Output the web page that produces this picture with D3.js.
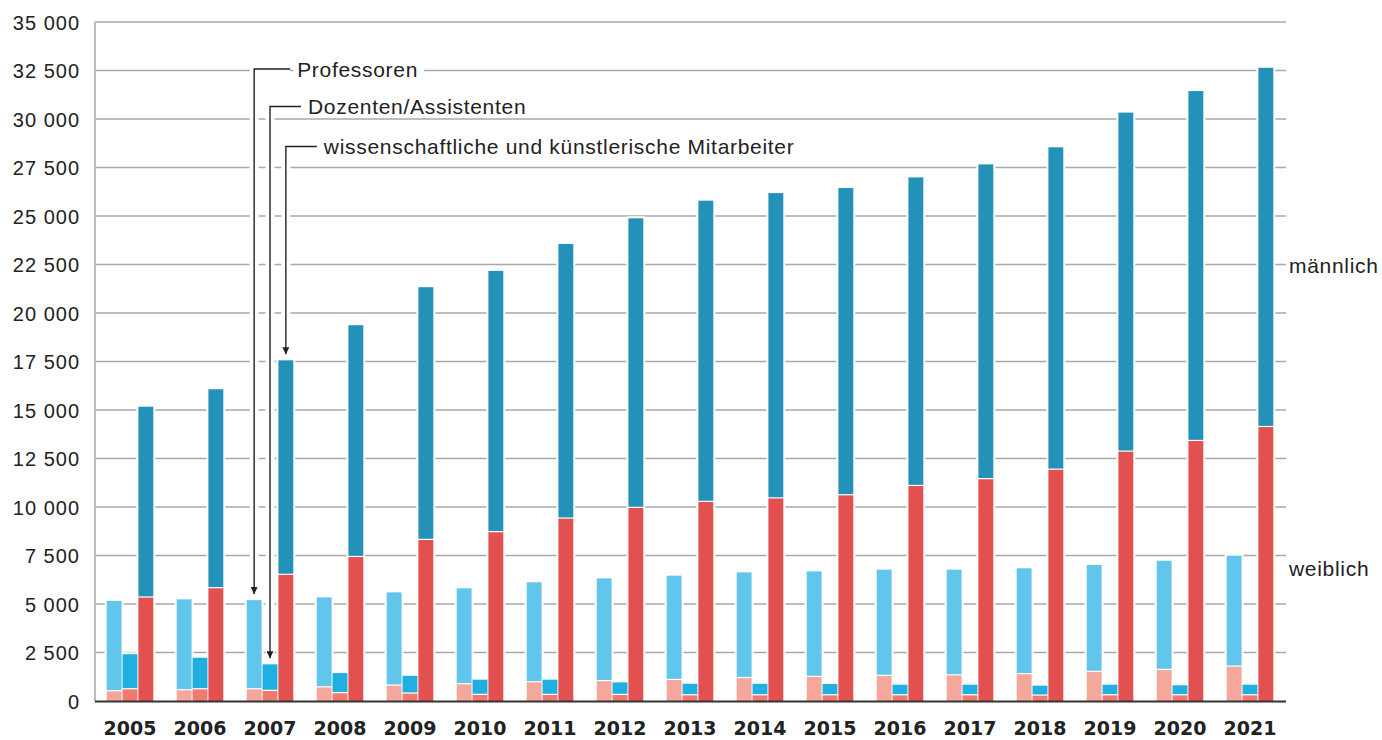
<!DOCTYPE html>
<html>
<head>
<meta charset="utf-8">
<script src="https://cdn.jsdelivr.net/npm/d3@7"></script>
<style>
  body { margin: 0; background: #fff; }
  text { font-family: "Liberation Sans", Arial, sans-serif; fill: #222; }
</style>
</head>
<body>
<div id="wrapper"></div>
<script>
const years = ["2005", "2006", "2007", "2008", "2009", "2010", "2011", "2012", "2013",
  "2014", "2015", "2016", "2017", "2018", "2019", "2020", "2021"];
const groups = ["prof", "doz", "wimi"];

// weiblich (bottom) and männlich (top) per staff group
const profFemale = [500, 550, 600, 700, 790, 860, 960, 1020, 1080, 1180, 1240, 1290, 1320, 1380, 1500, 1600, 1770];
const profMale = [4660, 4690, 4600, 4640, 4810, 4950, 5160, 5300, 5380, 5450, 5440, 5480, 5450, 5460, 5510, 5630, 5720];
const dozFemale = [600, 600, 520, 400, 380, 310, 310, 310, 290, 290, 290, 290, 290, 275, 290, 290, 290];
const dozMale = [1810, 1630, 1370, 1040, 920, 790, 790, 650, 600, 600, 585, 550, 550, 515, 550, 520, 550];
const wimiFemale = [5330, 5810, 6500, 7420, 8300, 8700, 9400, 9950, 10260, 10440, 10600, 11080, 11430, 11920, 12850, 13400, 14120];
const wimiMale = [9840, 10260, 11060, 11950, 13030, 13470, 14160, 14930, 15530, 15740, 15840, 15910, 16230, 16620, 17480, 18040, 18520];

const yTicks = [0, 2500, 5000, 7500, 10000, 12500, 15000, 17500, 20000, 22500, 25000, 27500, 30000, 32500, 35000];

const colors = {
  prof: { f: "#f4a79b", m: "#62c5eb" },
  doz: { f: "#f07a70", m: "#1fb0e1" },
  wimi: { f: "#e35050", m: "#2391b8" }
};

const seriesData = {
  prof: { f: profFemale, m: profMale },
  doz: { f: dozFemale, m: dozMale },
  wimi: { f: wimiFemale, m: wimiMale }
};

const width = 1382, height = 740;
const plot = { left: 95, right: 1286, top: 22, bottom: 701 };

const svg = d3.select("#wrapper").append("svg")
  .attr("width", width).attr("height", height);

const yScale = d3.scaleLinear().domain([0, 35000]).range([plot.bottom, plot.top]);
const xScale = d3.scalePoint().domain(years).range([130, 1250]);
const inner = d3.scaleBand().domain(groups).range([-23.3, 23.3]).paddingInner(0.06);

const locale = d3.formatLocale({ decimal: ",", thousands: " ", grouping: [3], currency: ["", ""] });
const fmt = locale.format(",");

// gridlines
svg.append("g").selectAll("line")
  .data(yTicks.filter(d => d > 0))
  .join("line")
  .attr("x1", plot.left).attr("x2", plot.right)
  .attr("y1", d => yScale(d)).attr("y2", d => yScale(d))
  .attr("stroke", "#a8a8a8").attr("stroke-width", 1.5);

// y axis line
svg.append("line")
  .attr("x1", plot.left).attr("x2", plot.left)
  .attr("y1", plot.top).attr("y2", plot.bottom)
  .attr("stroke", "#bbb").attr("stroke-width", 2);

// tick labels
svg.append("g").selectAll("text")
  .data(yTicks)
  .join("text")
  .attr("x", 80)
  .attr("y", d => yScale(d) + 7.5)
  .attr("text-anchor", "end")
  .style("font-size", "20px")
  .style("letter-spacing", "1px")
  .text(d => fmt(d));

// bars
const records = [];
years.forEach((yr, i) => {
  groups.forEach(g => {
    records.push({ year: yr, group: g, f: seriesData[g].f[i], m: seriesData[g].m[i] });
  });
});

const barW = inner.bandwidth();
const barX = d => xScale(d.year) + inner(d.group);

const bars = svg.append("g");
// white knockout to break the gridlines around bars
bars.selectAll("rect.knock")
  .data(records)
  .join("rect")
  .attr("class", "knock")
  .attr("x", d => barX(d) - 2)
  .attr("y", d => yScale(d.f + d.m) - 2)
  .attr("width", barW + 4)
  .attr("height", d => plot.bottom - yScale(d.f + d.m) + 2)
  .attr("fill", "#fff");

bars.selectAll("rect.fem")
  .data(records)
  .join("rect")
  .attr("class", "fem")
  .attr("x", barX)
  .attr("y", d => yScale(d.f))
  .attr("width", barW)
  .attr("height", d => plot.bottom - yScale(d.f))
  .attr("fill", d => colors[d.group].f);

bars.selectAll("rect.mal")
  .data(records)
  .join("rect")
  .attr("class", "mal")
  .attr("x", barX)
  .attr("y", d => yScale(d.f + d.m))
  .attr("width", barW)
  .attr("height", d => yScale(d.f) - yScale(d.f + d.m) - 1.2)
  .attr("fill", d => colors[d.group].m);

// baseline
svg.append("line")
  .attr("x1", plot.left).attr("x2", plot.right)
  .attr("y1", plot.bottom + 0.5).attr("y2", plot.bottom + 0.5)
  .attr("stroke", "#333").attr("stroke-width", 2);

// year labels
svg.append("g").selectAll("text")
  .data(years)
  .join("text")
  .attr("x", d => xScale(d))
  .attr("y", 735)
  .attr("text-anchor", "middle")
  .style("font-family", "'DejaVu Sans', sans-serif")
  .style("font-size", "19px")
  .style("font-weight", "bold")
  .text(d => d);

// annotations for the three bars of 2007
const annoYear = "2007";
const annotations = [
  { group: "prof", label: "Professoren", lineY: 69, gap: 43 },
  { group: "doz", label: "Dozenten/Assistenten", lineY: 106.5, gap: 38 },
  { group: "wimi", label: "wissenschaftliche und künstlerische Mitarbeiter", lineY: 146.5, gap: 38 }
];
const idx2007 = years.indexOf(annoYear);

svg.append("defs").append("marker")
  .attr("id", "arrow")
  .attr("viewBox", "0 0 10 10")
  .attr("refX", 10).attr("refY", 5)
  .attr("markerWidth", 5).attr("markerHeight", 5)
  .attr("markerUnits", "strokeWidth")
  .attr("orient", "auto")
  .append("path")
  .attr("d", "M0,0 L10,5 L0,10 z")
  .attr("fill", "#222");

const anno = svg.append("g");
annotations.forEach(a => {
  const lineX = xScale(annoYear) + inner(a.group) + barW / 2;
  const total = seriesData[a.group].f[idx2007] + seriesData[a.group].m[idx2007];
  const tipY = yScale(total) - 6;
  const textX = lineX + a.gap;
  const path = `M${textX - 7},${a.lineY} H${lineX} V${tipY}`;

  anno.append("path")
    .attr("d", path)
    .attr("fill", "none")
    .attr("stroke", "#fff")
    .attr("stroke-width", 9);

  const t = anno.append("text")
    .attr("x", textX)
    .attr("y", a.lineY + 7.5)
    .style("font-size", "21px")
    .style("letter-spacing", "0.7px")
    .text(a.label);
  const bb = t.node().getBBox();
  anno.insert("rect", "text")
    .attr("x", bb.x - 4).attr("y", a.lineY - 4)
    .attr("width", bb.width + 10).attr("height", 8)
    .attr("fill", "#fff");

  anno.append("path")
    .attr("d", path)
    .attr("fill", "none")
    .attr("stroke", "#222")
    .attr("stroke-width", 1.4)
    .attr("marker-end", "url(#arrow)");
});

// sex labels
svg.append("text")
  .attr("x", 1289).attr("y", 273)
  .style("font-size", "21px")
  .style("letter-spacing", "0.7px")
  .text("männlich");
svg.append("text")
  .attr("x", 1289).attr("y", 576)
  .style("font-size", "21px")
  .style("letter-spacing", "0.7px")
  .text("weiblich");
</script>
</body>
</html>
